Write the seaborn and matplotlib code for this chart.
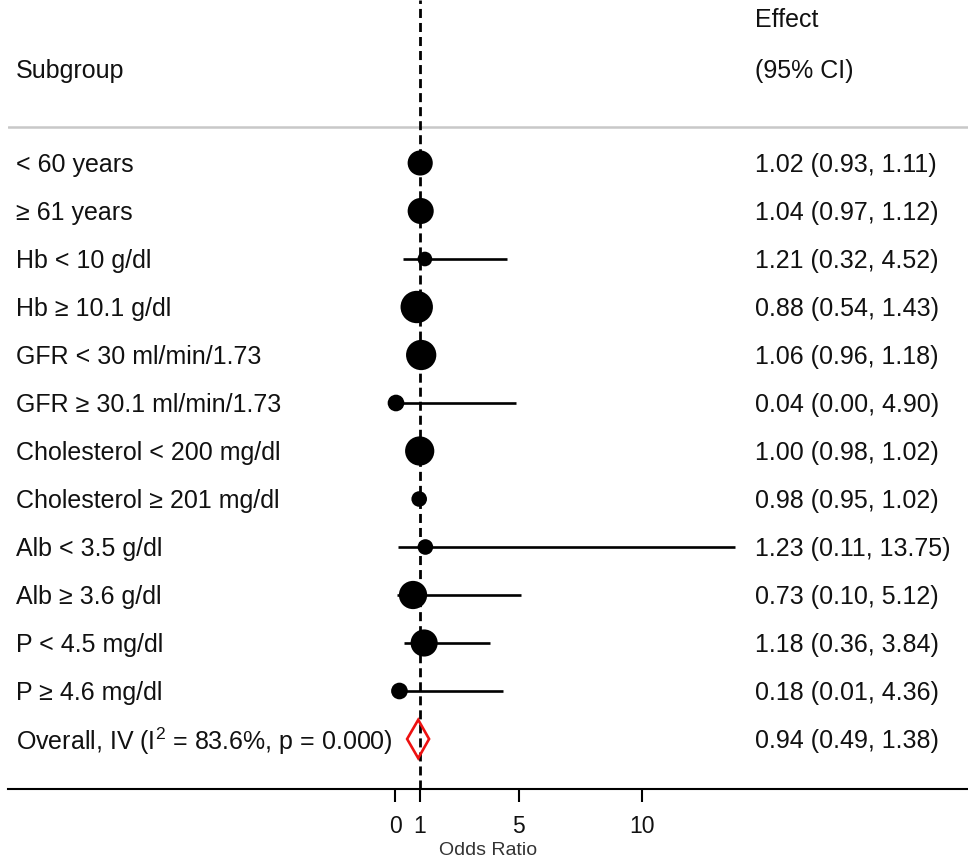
import numpy as np
import pandas as pd
import matplotlib
matplotlib.use("Agg")
import matplotlib.pyplot as plt
import matplotlib.transforms as mtrans
import seaborn as sns

# ---------------- data ----------------
subgroups = ["< 60 years", "≥ 61 years", "Hb < 10 g/dl", "Hb ≥ 10.1 g/dl",
             "GFR < 30 ml/min/1.73", "GFR ≥ 30.1 ml/min/1.73",
             "Cholesterol < 200 mg/dl", "Cholesterol ≥ 201 mg/dl",
             "Alb < 3.5 g/dl", "Alb ≥ 3.6 g/dl", "P < 4.5 mg/dl", "P ≥ 4.6 mg/dl"]
odds_ratio = [1.02, 1.04, 1.21, 0.88, 1.06, 0.04, 1.00, 0.98, 1.23, 0.73, 1.18, 0.18]
ci_low = [0.93, 0.97, 0.32, 0.54, 0.96, 0.00, 0.98, 0.95, 0.11, 0.10, 0.36, 0.01]
ci_high = [1.11, 1.12, 4.52, 1.43, 1.18, 4.90, 1.02, 1.02, 13.75, 5.12, 3.84, 4.36]
weights = [9.1, 9.8, 3.1, 15.1, 13.2, 4.0, 12.3, 3.5, 3.5, 11.5, 10.6, 4.0]  # estimated %
effect_text = ["1.02 (0.93, 1.11)", "1.04 (0.97, 1.12)", "1.21 (0.32, 4.52)",
               "0.88 (0.54, 1.43)", "1.06 (0.96, 1.18)", "0.04 (0.00, 4.90)",
               "1.00 (0.98, 1.02)", "0.98 (0.95, 1.02)", "1.23 (0.11, 13.75)",
               "0.73 (0.10, 5.12)", "1.18 (0.36, 3.84)", "0.18 (0.01, 4.36)"]
overall_label = "Overall, IV (I$^2$ = 83.6%, p = 0.000)"
overall_or, overall_low, overall_high = 0.94, 0.49, 1.38
overall_text = "0.94 (0.49, 1.38)"
xticks = [0, 1, 5, 10]

# ---------------- style ----------------
sns.set_style("white")
plt.rcParams["font.family"] = ["Liberation Sans", "DejaVu Sans"]
plt.rcParams["mathtext.fontset"] = "custom"
plt.rcParams["mathtext.rm"] = "Liberation Sans"
plt.rcParams["mathtext.it"] = "Liberation Sans"
plt.rcParams["mathtext.default"] = "regular"
plt.rcParams["text.color"] = "#111111"

W, H = 968, 861
fig = plt.figure(figsize=(W / 100, H / 100), dpi=100)
fig.patch.set_facecolor("white")

# pixel geometry of reference
x0_px, unit_px = 395.0, 24.7
row0_px, row_px = 163.0, 48.0
axis_px = 789.0
ax = fig.add_axes([8 / W, (H - axis_px) / H, (W - 8) / W, axis_px / H])
ax.set_xlim((8 - x0_px) / unit_px, (W - x0_px) / unit_px)
ax.set_ylim((axis_px - row0_px) / row_px, -row0_px / row_px)

rows = np.arange(len(subgroups))
df = pd.DataFrame({"row": rows, "or": odds_ratio, "lo": ci_low, "hi": ci_high,
                   "w": weights})

# reference line at 1
lw = 2.0
ax.axvline(1, color="black", lw=lw, linestyle=(0, (6.5 / lw, 3.6 / lw)), zorder=1)

# CI lines
ax.hlines(df["row"], df["lo"], df["hi"], color="black", lw=1.9, zorder=2)

# weighted points
wmin, wmax = min(weights), max(weights)
sns.scatterplot(data=df, x="or", y="row", size="w",
                sizes=(wmin * 36, wmax * 36), size_norm=(wmin, wmax),
                color="black", edgecolor="none", marker="o", legend=False,
                ax=ax, zorder=3)

# overall diamond
ov_row = len(subgroups)
hh = 0.4
ax.fill([overall_low, overall_or, overall_high, overall_or],
        [ov_row, ov_row - hh, ov_row, ov_row + hh],
        facecolor="none", edgecolor="#ee1111", lw=1.9, zorder=4)

# separator line under header
ax.axhline((127 - row0_px) / row_px, color="#c8c8c8", lw=1.8, zorder=0)

# texts
tr = mtrans.blended_transform_factory(fig.transFigure, ax.transData)
fs = 18
dy = 2.0 / row_px
for i, (lab, eff) in enumerate(zip(subgroups, effect_text)):
    ax.text(16 / W, i + dy, lab, transform=tr, fontsize=fs, va="center", ha="left")
    ax.text(755 / W, i + dy, eff, transform=tr, fontsize=fs, va="center", ha="left")
ax.text(16 / W, ov_row + dy, overall_label, transform=tr, fontsize=fs, va="center", ha="left")
ax.text(755 / W, ov_row + dy, overall_text, transform=tr, fontsize=fs, va="center", ha="left")

ax.text(16 / W, (69 - row0_px) / row_px + dy, "Subgroup", transform=tr, fontsize=fs,
        va="center", ha="left")
ax.text(755 / W, (18 - row0_px) / row_px + dy, "Effect", transform=tr, fontsize=fs,
        va="center", ha="left")
ax.text(755 / W, (69 - row0_px) / row_px + dy, "(95% CI)", transform=tr, fontsize=fs,
        va="center", ha="left")

# axes cosmetics
for s in ["top", "left", "right"]:
    ax.spines[s].set_visible(False)
ax.spines["bottom"].set_linewidth(1.5)
ax.spines["bottom"].set_color("black")
ax.set_yticks([])
ax.set_xticks(xticks)
ax.set_xticklabels([str(t) for t in xticks])
ax.tick_params(axis="x", bottom=True, direction="out", length=9.5, width=1.5,
               labelsize=16.5, pad=9, colors="black", labelcolor="#111111")
ax.set_xlabel("Odds Ratio", fontsize=14, labelpad=3, color="#333333")
ax.set_ylabel("")
ax.patch.set_alpha(0)

fig.savefig("out.png", dpi=100, facecolor="white")
